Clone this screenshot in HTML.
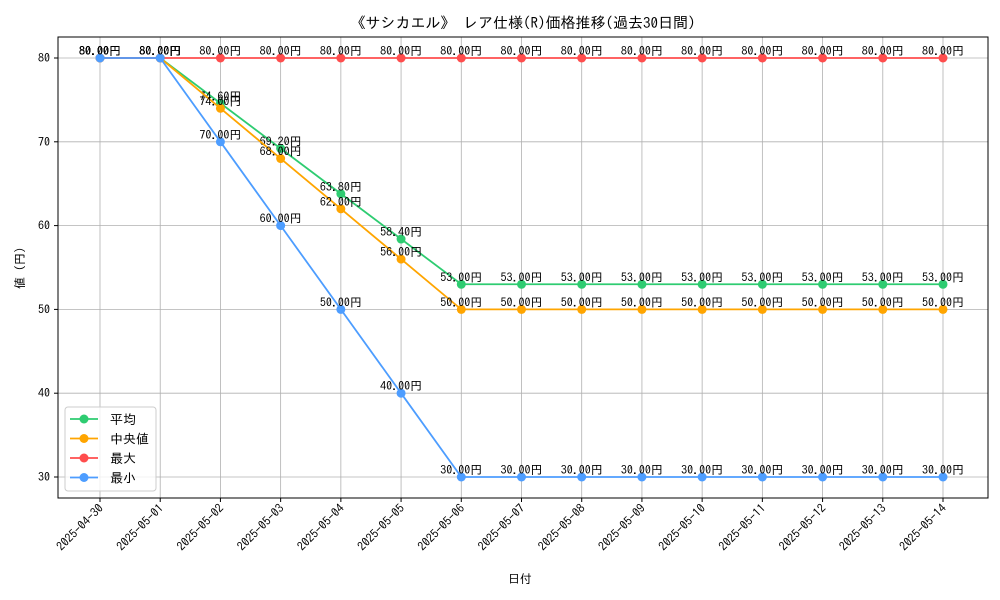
<!DOCTYPE html>
<html><head><meta charset="utf-8"><style>body{margin:0;background:#fff}svg{display:block}text{font-family:"IPAGothic","Liberation Sans","Noto Sans CJK JP",sans-serif}</style></head>
<body>
<svg id="c" width="1000" height="600" xmlns="http://www.w3.org/2000/svg">
<text x="523" y="28" font-size="15" text-anchor="middle">《サシカエル》 レア仕様(R)価格推移(過去30日間)</text>
<text x="520" y="583" font-size="12" text-anchor="middle">日付</text>
<text x="0" y="0" font-size="12" text-anchor="middle" transform="translate(24,268) rotate(-90)">値 (円)</text>
<g id="grid"></g><g id="marks"></g>
<rect x="58" y="37" width="930" height="461" fill="none" stroke="#000" stroke-width="1"/>
<g>
<rect x="65" y="407" width="91" height="84" rx="3" fill="#fff" fill-opacity="0.8" stroke="#ccc"/>
</g>
</svg>
<script>
const dates=["2025-04-30","2025-05-01","2025-05-02","2025-05-03","2025-05-04","2025-05-05","2025-05-06","2025-05-07","2025-05-08","2025-05-09","2025-05-10","2025-05-11","2025-05-12","2025-05-13","2025-05-14"];
const avgVals=[80,80,74.6,69.2,63.8,58.4,53,53,53,53,53,53,53,53,53];
const medVals=[80,80,74,68,62,56,50,50,50,50,50,50,50,50,50];
const maxVals=[80,80,80,80,80,80,80,80,80,80,80,80,80,80,80];
const minVals=[80,80,70,60,50,40,30,30,30,30,30,30,30,30,30];
const yTicks=[30,40,50,60,70,80];
const seriesNames=["平均","中央値","最大","最小"];
const NS="http://www.w3.org/2000/svg";
const xS=i=>100+i*(943-100)/(dates.length-1);
const yS=v=>477-(v-30)*(477-58)/50;
function mk(t,a,p){const e=document.createElementNS(NS,t);for(const k in a)e.setAttribute(k,a[k]);p.appendChild(e);return e;}
const grid=document.getElementById('grid'),marks=document.getElementById('marks'),svg=document.getElementById('c');
dates.forEach((d,i)=>{const x=xS(i);
const g=mk('line',{x1:x,x2:x,y1:37,y2:498,stroke:'#b0b0b0','stroke-width':0.8},grid);


mk('line',{x1:x,x2:x,y1:498,y2:502,stroke:'#000'},svg);
const t=mk('text',{x:0,y:0,'font-size':12,'text-anchor':'end',transform:`translate(${x+4},${509}) rotate(-45)`},svg);t.textContent=d;

});
yTicks.forEach(v=>{const y=yS(v);
const g=mk('line',{x1:58,x2:988,y1:y,y2:y,stroke:'#b0b0b0','stroke-width':0.8},grid);


mk('line',{x1:54,x2:58,y1:y,y2:y,stroke:'#000'},svg);
const t=mk('text',{x:50,y:y+4,'font-size':12,'text-anchor':'end'},svg);t.textContent=v;

});
const series=[[avgVals,'#2ecc71'],[medVals,'#ffa500'],[maxVals,'#ff4d4d'],[minVals,'#4d9dff']];
series.forEach(([vals,col],si)=>{
const p=mk('polyline',{points:vals.map((v,i)=>xS(i)+','+yS(v)).join(' '),fill:'none',stroke:col,'stroke-width':1.8},marks);


vals.forEach((v,i)=>{const c=mk('circle',{cx:xS(i),cy:yS(v),r:4.5,fill:col},marks);


const t=mk('text',{x:xS(i),y:yS(v)-3,'font-size':12,'text-anchor':'middle'},marks);t.textContent=v.toFixed(2)+'円';

});
const ly=419+si*19.5;
mk('line',{x1:70,x2:98,y1:ly,y2:ly,stroke:col,'stroke-width':1.8},svg);
mk('circle',{cx:84,cy:ly,r:4.5,fill:col},svg);
const lt=mk('text',{x:110,y:ly+5,'font-size':13},svg);lt.textContent=seriesNames[si];


});
</script>
</body></html>
